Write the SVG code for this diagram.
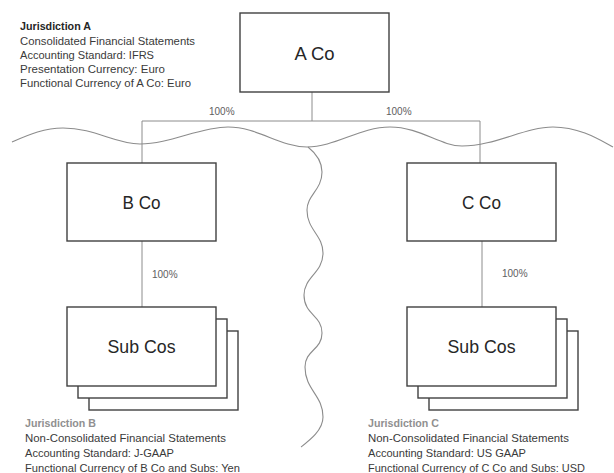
<svg xmlns="http://www.w3.org/2000/svg" width="614" height="473" viewBox="0 0 614 473">
<style>
.box{fill:#fff;stroke:#404040;stroke-width:1.4}
.lbl{font-family:"Liberation Sans",Arial,sans-serif;font-size:19px;fill:#262626;text-anchor:middle}
.conn{stroke:#8c8c8c;stroke-width:1;fill:none}
.wave{stroke:#8c8c8c;stroke-width:1.1;fill:none}
.pct{font-family:"Liberation Sans",Arial,sans-serif;font-size:10px;fill:#606060}
.info{font-family:"Liberation Sans",Arial,sans-serif;font-size:11.5px;fill:#3a3a3a}
.hA{font-weight:bold;fill:#262626}
.hBC{font-weight:bold;fill:#909090}
</style>
<rect width="614" height="473" fill="#fff"/>
<g id="borders">
<path class="wave" d="M12,142 C30,134 45,128 63,128 C95,128 115,144 140,144 C170,144 200,127 228,127 C258,127 280,147 307,147 C335,147 360,127 390,127 C420,127 440,146 462,146 C495,146 525,127 553,127 C580,127 600,140 613,147"/>
<path class="wave" d="M308,147 C318,155 322,163 322,172 C322,190 307,195 307,210 C307,230 323,235 323,253 C323,273 304,277 304,295 C304,315 322,315 322,333 C322,350 305,350 305,367 C305,390 323,395 323,417 C323,430 310,440 301,447"/>
</g>
<g id="connectors">
<path class="conn" d="M312,92 V121 M142,121 H480 M142,121 V163 M480,121 V163 M142,241 V307 M482,241 V307"/>
<text class="pct" x="209" y="115">100%</text>
<text class="pct" x="386" y="115">100%</text>
<text class="pct" x="152" y="278">100%</text>
<text class="pct" x="502" y="277">100%</text>
</g>
<g id="aco">
<rect class="box" x="240" y="13" width="149" height="79"/>
<text class="lbl" x="314.5" y="60" textLength="40" lengthAdjust="spacingAndGlyphs">A Co</text>
</g>
<g id="bco">
<rect class="box" x="67" y="163" width="149" height="78"/>
<text class="lbl" x="141.5" y="209" textLength="38" lengthAdjust="spacingAndGlyphs">B Co</text>
</g>
<g id="cco">
<rect class="box" x="407" y="163" width="149" height="78"/>
<text class="lbl" x="481.5" y="209" textLength="39" lengthAdjust="spacingAndGlyphs">C Co</text>
</g>
<g id="subB">
<rect class="box" x="89" y="331" width="149" height="79"/>
<rect class="box" x="78" y="319" width="149" height="79"/>
<rect class="box" x="67" y="307" width="149" height="79"/>
<text class="lbl" x="141.5" y="353" textLength="68" lengthAdjust="spacingAndGlyphs">Sub Cos</text>
</g>
<g id="subC">
<rect class="box" x="429" y="331" width="149" height="79"/>
<rect class="box" x="418" y="319" width="149" height="79"/>
<rect class="box" x="407" y="307" width="149" height="79"/>
<text class="lbl" x="481.5" y="353" textLength="68" lengthAdjust="spacingAndGlyphs">Sub Cos</text>
</g>
<g id="jurA" class="info">
<text class="hA" x="20" y="30" textLength="71" lengthAdjust="spacingAndGlyphs">Jurisdiction A</text>
<text x="20" y="44.5" textLength="175" lengthAdjust="spacingAndGlyphs">Consolidated Financial Statements</text>
<text x="20" y="58.5" textLength="134" lengthAdjust="spacingAndGlyphs">Accounting Standard: IFRS</text>
<text x="20" y="73" textLength="145" lengthAdjust="spacingAndGlyphs">Presentation Currency: Euro</text>
<text x="20" y="87" textLength="171" lengthAdjust="spacingAndGlyphs">Functional Currency of A Co: Euro</text>
</g>
<g id="jurB" class="info">
<text class="hBC" x="25" y="426.5" textLength="71" lengthAdjust="spacingAndGlyphs">Jurisdiction B</text>
<text x="25" y="441.5" textLength="201" lengthAdjust="spacingAndGlyphs">Non-Consolidated Financial Statements</text>
<text x="25" y="456.5" textLength="149" lengthAdjust="spacingAndGlyphs">Accounting Standard: J-GAAP</text>
<text x="25" y="471.5" textLength="215" lengthAdjust="spacingAndGlyphs">Functional Currency of B Co and Subs: Yen</text>
</g>
<g id="jurC" class="info">
<text class="hBC" x="368" y="426.5" textLength="71" lengthAdjust="spacingAndGlyphs">Jurisdiction C</text>
<text x="368" y="441.5" textLength="201" lengthAdjust="spacingAndGlyphs">Non-Consolidated Financial Statements</text>
<text x="368" y="456.5" textLength="158" lengthAdjust="spacingAndGlyphs">Accounting Standard: US GAAP</text>
<text x="368" y="471.5" textLength="217" lengthAdjust="spacingAndGlyphs">Functional Currency of C Co and Subs: USD</text>
</g>
</svg>
